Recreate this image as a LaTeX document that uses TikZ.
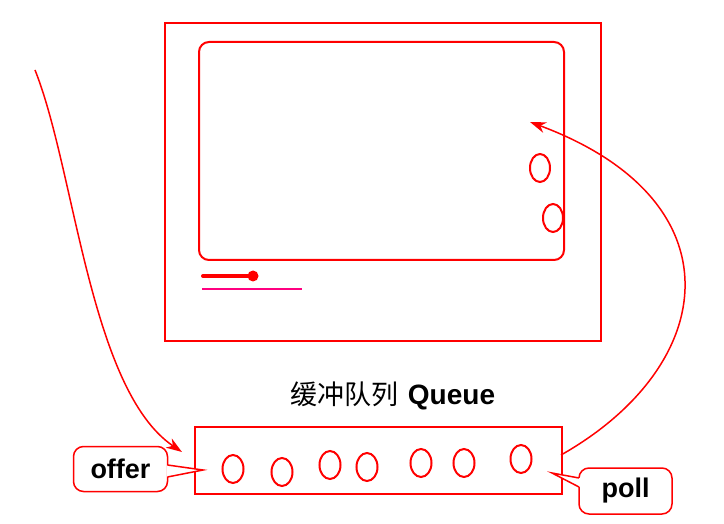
\documentclass[tikz,border=0pt]{standalone}
\usepackage{fontspec}
\setmainfont{Liberation Sans}
\newfontfamily\cjkfont{Noto Sans CJK SC}
\usetikzlibrary{arrows.meta,calc}
\definecolor{qred}{RGB}{255,0,0}
\definecolor{qpink}{RGB}{255,0,128}
\begin{document}
\begin{tikzpicture}[x=1pt,y=-1pt,
  frame/.style={draw=qred,line width=2pt},
  ball/.style={draw=qred,line width=2pt},
  flow/.style={draw=qred,line width=1.5pt,-{Stealth[length=16pt,width=11pt,inset=5pt]}},
  bubble/.style={draw=qred,line width=1.5pt,rounded corners=10pt,fill=white,font=\fontsize{27}{30}\selectfont\bfseries,inner sep=0pt},
]
\useasboundingbox (0,0) rectangle (724,524);
% screen
\node[frame,minimum width=436pt,minimum height=318pt,inner sep=0pt] (screen) at (383,182) {};
\node[frame,rounded corners=10pt,minimum width=365pt,minimum height=218pt,inner sep=0pt] (panel) at (381.5,151) {};
\draw[ball] (540,168) ellipse (10pt and 14pt);
\draw[ball] (553,218) ellipse (10pt and 14pt);
% slider
\coordinate (s1) at (203,276);
\node[circle,fill=qred,inner sep=0pt,minimum size=11pt] (knob) at (253,276) {};
\draw[qred,line width=4pt,line cap=round] (s1) -- (knob.center);
\coordinate (p1) at (202,289);
\coordinate (p2) at (302,289);
\draw[qpink,line width=2pt] (p1) -- (p2);
% title
\node (title) at (393,396) {{\fontsize{27}{30}\selectfont\cjkfont 缓冲队列}\hspace{9pt}{\bfseries\fontsize{28}{30}\selectfont Queue}};
% queue box
\node[frame,minimum width=367pt,minimum height=67pt,inner sep=0pt] (queue) at (378.5,460.5) {};
\foreach \x/\y in {233/469,282/472,330/465,367/467,421/463,464/463,521/459}
  \draw[ball] (\x,\y) ellipse (10.5pt and 14pt);
% arrows
\coordinate (in0) at (35,70);
\coordinate (in1) at (182,452);
\draw[flow] (in0) .. controls (75,170) and (90,390) .. (in1);
\coordinate (out0) at (561,455);
\coordinate (out1) at (530,122);
\draw[flow] (out0) .. controls (720,365) and (740,200) .. (out1);
% callouts
\node[bubble,minimum width=94pt,minimum height=45pt] (offer) at (120.5,469) {offer};
\coordinate (offertip) at (203,470);
\fill[white] ($(offer.east)+(-1.5,-4)$) -- (offertip) -- ($(offer.east)+(-1.5,8)$) -- cycle;
\draw[qred,line width=1.5pt] ($(offer.east)+(-0.75,-4)$) -- (offertip) -- ($(offer.east)+(-0.75,8)$);
\node[bubble,minimum width=93pt,minimum height=46pt] (poll) at (625.5,491) {poll};
\coordinate (polltip) at (552,473);
\fill[white] ($(poll.west)+(1.5,-13)$) -- (polltip) -- ($(poll.west)+(1.5,-4)$) -- cycle;
\draw[qred,line width=1.5pt] ($(poll.west)+(0.75,-13)$) -- (polltip) -- ($(poll.west)+(0.75,-4)$);
\end{tikzpicture}
\end{document}
